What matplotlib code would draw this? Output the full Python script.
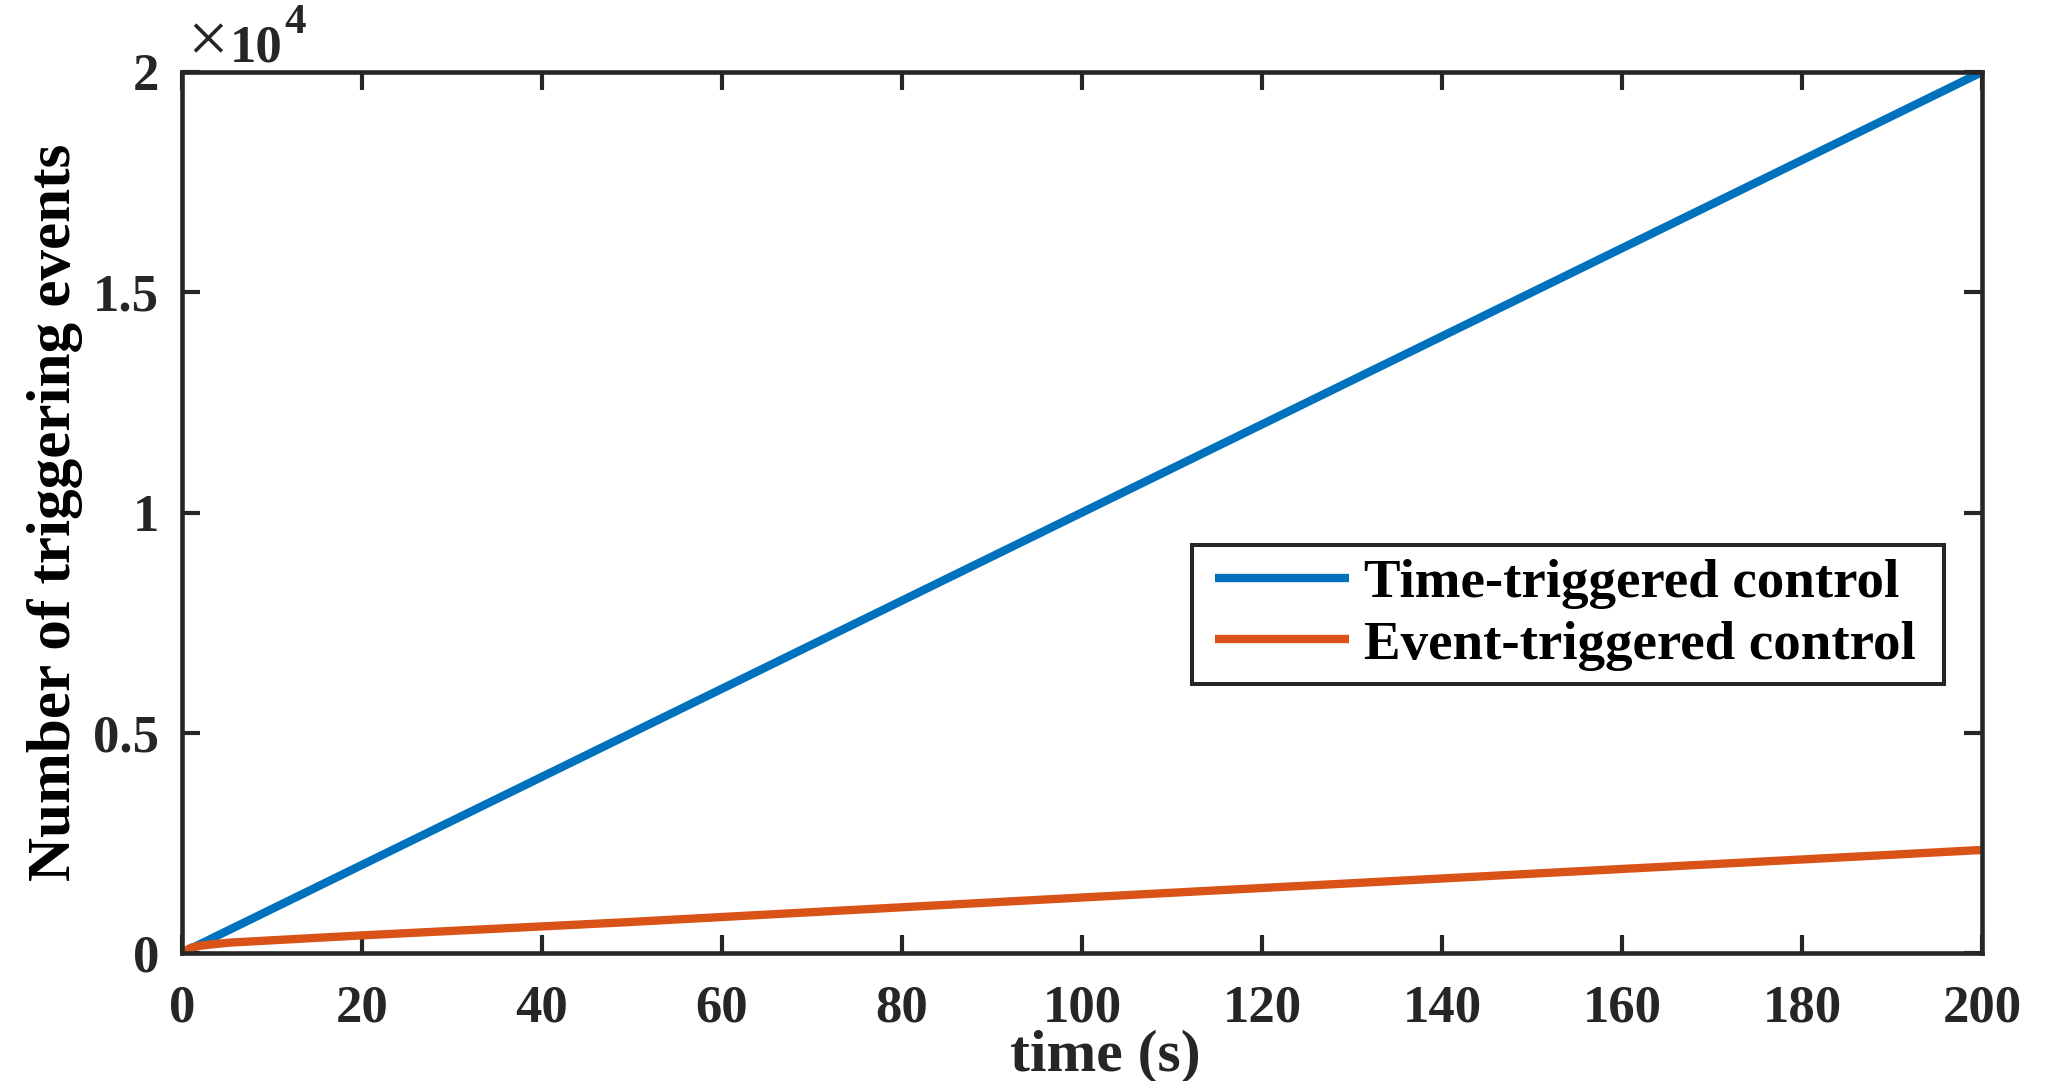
import matplotlib
matplotlib.use("Agg")
import matplotlib.pyplot as plt
from matplotlib.lines import Line2D
from matplotlib.legend_handler import HandlerLine2D
from matplotlib.ticker import FixedLocator, FuncFormatter

# ---- data ----
time_tt = [0, 200]
count_tt = [0, 20000]

time_et = [0, 1, 2, 3.5, 5.3, 20, 49, 100, 150, 200]
count_et = [0, 120, 165, 200, 236, 400, 695, 1260, 1800, 2339]

x_ticks = [0, 20, 40, 60, 80, 100, 120, 140, 160, 180, 200]
y_ticks = [0, 5000, 10000, 15000, 20000]
y_tick_labels = ["0", "0.5", "1", "1.5", "2"]

labels = ["Time-triggered control", "Event-triggered control"]
colors = ["#0072BD", "#D95319"]
AX = "#262626"

plt.rcParams["font.family"] = ["Liberation Serif", "DejaVu Serif"]
plt.rcParams["font.weight"] = "bold"

W, H = 2048, 1081
fig = plt.figure(figsize=(W / 100, H / 100), dpi=100)
ax = fig.add_axes([182 / W, 1 - 953 / H, 1800 / W, 881 / H])

ax.plot(time_tt, count_tt, color=colors[0], lw=6.0, label=labels[0], solid_capstyle="butt")
ax.plot(time_et, count_et, color=colors[1], lw=6.0, label=labels[1], solid_capstyle="butt")

ax.set_xlim(0, 200)
ax.set_ylim(0, 20000)
ax.xaxis.set_major_locator(FixedLocator(x_ticks))
ax.yaxis.set_major_locator(FixedLocator(y_ticks))
ax.yaxis.set_major_formatter(FuncFormatter(lambda v, p: y_tick_labels[y_ticks.index(int(round(v)))] if int(round(v)) in y_ticks else ""))

for s in ax.spines.values():
    s.set_color(AX)
    s.set_linewidth(3.3)

ax.tick_params(axis="both", direction="in", length=13, width=3.0, color=AX,
               labelcolor=AX, labelsize=38, top=True, right=True)
ax.tick_params(axis="x", pad=23)
ax.tick_params(axis="y", pad=16.5)
for lab in ax.get_xticklabels() + ax.get_yticklabels():
    lab.set_fontweight("bold")

ax.set_xlabel("time (s)", fontsize=43, fontweight="bold", color=AX, va="top")
ax.xaxis.set_label_coords((1105 - 182) / 1800, -(1029 - 953) / 881)
ax.set_ylabel("Number of triggering events", fontsize=44, fontweight="bold", color="black")
ax.yaxis.set_label_coords((83 - 182) / 1800, 0.5)

# exponent marker
fig.text(187 / W, 1 - 62 / H, "\u00d7", fontsize=52, fontweight="normal", color=AX, va="baseline")
fig.text(230 / W, 1 - 62 / H, "10", fontsize=38, fontweight="bold", color=AX, va="baseline")
fig.text(284 / W, 1 - 33 / H, "4", fontsize=31, fontweight="bold", color=AX, va="baseline")

leg = ax.legend(loc="upper left",
                bbox_to_anchor=((1192 - 182) / 1800, 0.30, (1944 - 1192) / 1800, 0.4631 - 0.30),
                mode="expand", borderaxespad=0, borderpad=0.25, labelspacing=0.2,
                handlelength=2.62, handletextpad=0.27, fontsize=39.5,
                frameon=True, fancybox=False, framealpha=1, edgecolor=AX,
                handler_map={Line2D: HandlerLine2D(xpad=0.17)})
leg.get_frame().set_linewidth(2.9)
for t in leg.get_texts():
    t.set_color("black")
    t.set_fontweight("bold")

fig.savefig("out.png", dpi=100)
